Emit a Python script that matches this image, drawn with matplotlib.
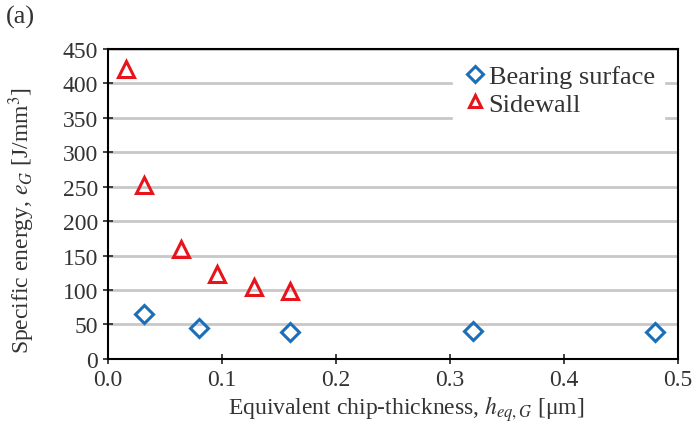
import matplotlib.pyplot as plt

# data
bearing_x = [0.032, 0.08, 0.16, 0.32, 0.48]
bearing_y = [65, 45, 39, 41, 39]
sidewall_x = [0.016, 0.032, 0.064, 0.096, 0.128, 0.16]
sidewall_y = [421, 252, 160, 123, 104, 99]

x_ticks = [0.0, 0.1, 0.2, 0.3, 0.4, 0.5]
y_ticks = list(range(0, 451, 50))

plt.rcParams['font.family'] = ['Liberation Serif', 'DejaVu Serif']
plt.rcParams['mathtext.fontset'] = 'stix'

fig = plt.figure(figsize=(6.92, 4.31), dpi=100)
ax = fig.add_axes([0.156, 0.165, 0.824, 0.719])

ax.plot(bearing_x, bearing_y, 'D', ms=9, mfc='none', mec='#1a6fb8', mew=2.2,
        ls='none', label='Bearing surface')
ax.plot(sidewall_x, sidewall_y, '^', ms=11, mfc='none', mec='#e8141c', mew=2.2,
        ls='none', label='Sidewall')

ax.set_xlim(0, 0.5)
ax.set_ylim(0, 450)
ax.set_xticks(x_ticks)
ax.set_xticklabels([f'{v:.1f}' for v in x_ticks])
ax.set_yticks(y_ticks)
ax.yaxis.grid(True, color='#c8c8c8', lw=2)
ax.set_axisbelow(True)
ax.tick_params(direction='inout', length=7, width=1.3, labelsize=17, colors='#333333')
for s in ax.spines.values():
    s.set_linewidth(1.5)

ax.set_xlabel(r'Equivalent chip-thickness, $h_{eq,G}$ [μm]', fontsize=17, color='#333333')
ax.set_ylabel(r'Specific energy, $e_G$ [J/mm$^3$]', fontsize=17, color='#333333')
ax.xaxis.set_label_coords(0.523, -0.11)
ax.yaxis.set_label_coords(-0.125, 0.45)

leg = ax.legend(loc='upper right', bbox_to_anchor=(0.975, 0.979), borderaxespad=0,
                frameon=True, fontsize=19, handletextpad=0.0, borderpad=0.35,
                labelspacing=0.15, handlelength=1.0, markerscale=0.85)
leg.get_frame().set_edgecolor('white')
leg.get_frame().set_facecolor('white')
leg.get_frame().set_alpha(1)
leg.get_frame().set_boxstyle('square', pad=0.0)
for t in leg.get_texts():
    t.set_color('#333333')

fig.text(0.008, 0.945, '(a)', fontsize=19, color='#333333')

fig.savefig('out.png', dpi=100)
